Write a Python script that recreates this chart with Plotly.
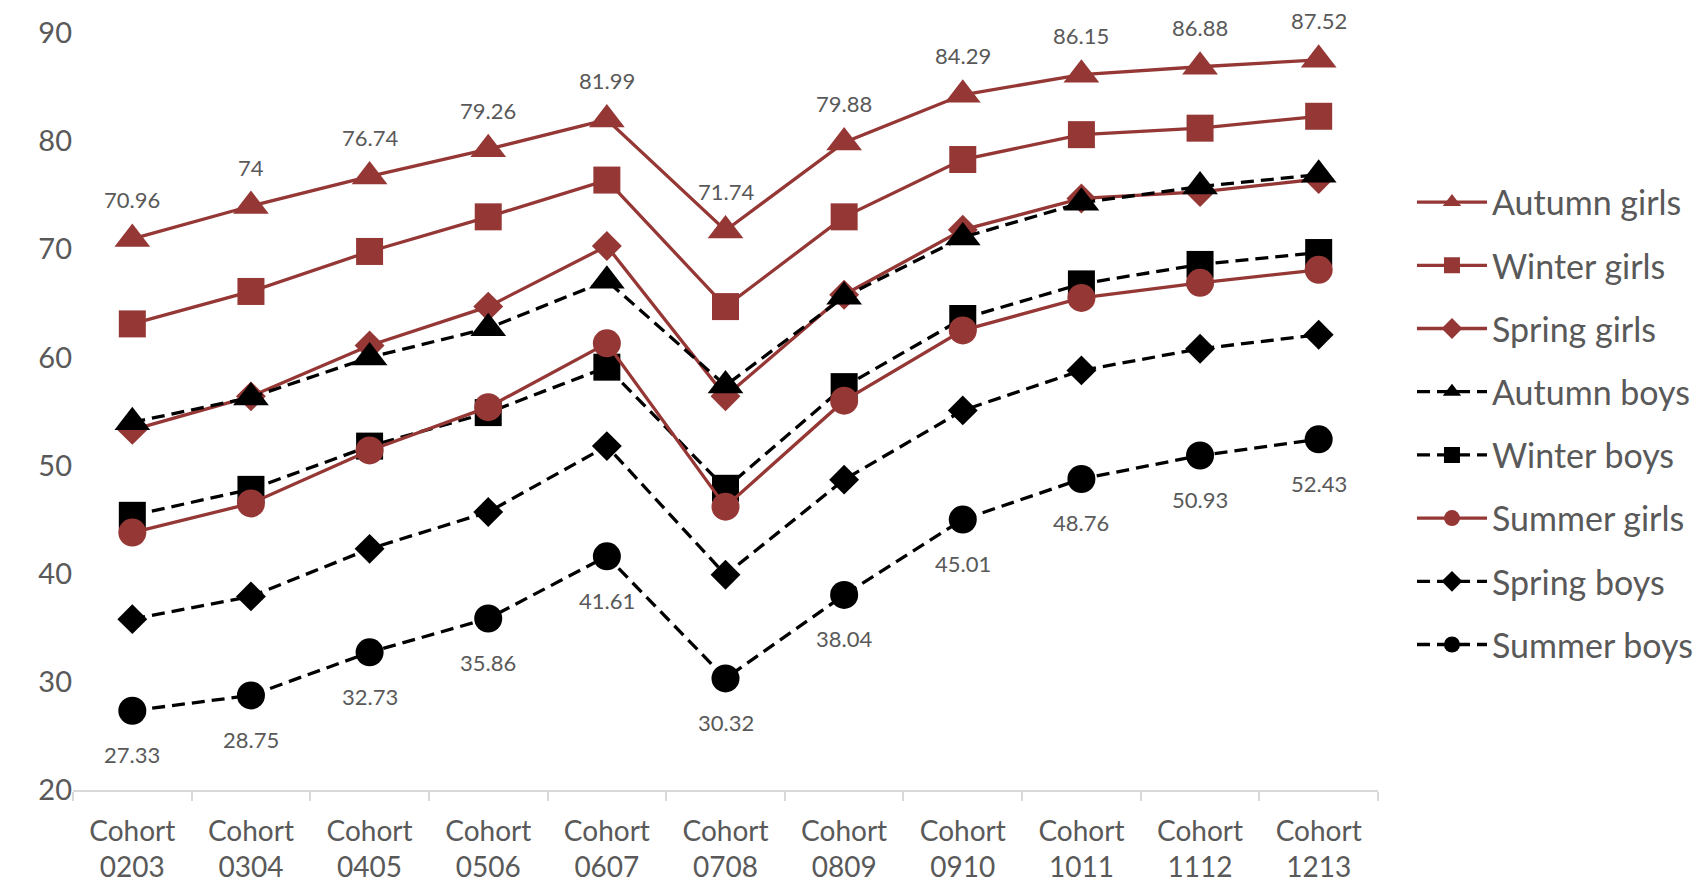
import plotly.graph_objects as go

categories = ["Cohort<br>0203", "Cohort<br>0304", "Cohort<br>0405", "Cohort<br>0506",
              "Cohort<br>0607", "Cohort<br>0708", "Cohort<br>0809", "Cohort<br>0910",
              "Cohort<br>1011", "Cohort<br>1112", "Cohort<br>1213"]

autumn_girls = [70.96, 74, 76.74, 79.26, 81.99, 71.74, 79.88, 84.29, 86.15, 86.88, 87.52]
winter_girls = [63.1, 66.1, 69.8, 73.0, 76.4, 64.7, 73.0, 78.3, 80.6, 81.2, 82.3]
spring_girls = [53.3, 56.4, 61.1, 64.7, 70.3, 56.4, 65.8, 71.8, 74.7, 75.3, 76.5]
autumn_boys = [54.0, 56.3, 60.0, 62.7, 67.1, 57.4, 65.6, 71.1, 74.3, 75.8, 76.9]
winter_boys = [45.4, 47.8, 51.8, 54.9, 59.1, 47.9, 57.3, 63.6, 66.8, 68.6, 69.7]
summer_girls = [43.8, 46.5, 51.4, 55.4, 61.3, 46.2, 56.0, 62.5, 65.5, 66.9, 68.1]
spring_boys = [35.8, 37.9, 42.3, 45.7, 51.8, 39.9, 48.7, 55.1, 58.8, 60.8, 62.1]
summer_boys = [27.33, 28.75, 32.73, 35.86, 41.61, 30.32, 38.04, 45.01, 48.76, 50.93, 52.43]

y_ticks = [20, 30, 40, 50, 60, 70, 80, 90]

RED = "#953735"
BLACK = "#000000"
TEXT = "#595959"
FONT = "Lato"
DASH = "13px,7px"

series = [
    ("Autumn girls", autumn_girls, RED, "solid", "triangle-up", 31),
    ("Winter girls", winter_girls, RED, "solid", "square", 27),
    ("Spring girls", spring_girls, RED, "solid", "diamond", 23),
    ("Autumn boys", autumn_boys, BLACK, DASH, "triangle-up", 31),
    ("Winter boys", winter_boys, BLACK, DASH, "square", 27),
    ("Summer girls", summer_girls, RED, "solid", "circle", 28),
    ("Spring boys", spring_boys, BLACK, DASH, "diamond", 23),
    ("Summer boys", summer_boys, BLACK, DASH, "circle", 28),
]

fig = go.Figure()
for name, vals, color, dash, symbol, size in series:
    fig.add_trace(go.Scatter(
        x=categories, y=vals, name=name, mode="lines+markers",
        legendgroup=name,
        line=dict(color=color, width=3.3, dash=dash),
        marker=dict(symbol=symbol, size=size, color=color, line=dict(width=0)),
        cliponaxis=False,
    ))

annotations = []
for c, v in zip(categories, autumn_girls):
    annotations.append(dict(x=c, y=v, text=f"{v:g}", showarrow=False, yshift=39,
                            font=dict(family=FONT, size=22, color=TEXT)))
for c, v in zip(categories, summer_boys):
    annotations.append(dict(x=c, y=v, text=f"{v:g}", showarrow=False, yshift=-44,
                            font=dict(family=FONT, size=22, color=TEXT)))

fig.update_layout(
    width=1708, height=884,
    margin=dict(l=65, r=338, t=25, b=102, autoexpand=False),
    plot_bgcolor="white", paper_bgcolor="white",
    font=dict(family=FONT, color=TEXT),
    annotations=annotations,
    showlegend=True,
    legend=dict(
        xref="container", yref="container",
        x=0.822, y=0.53, xanchor="left", yanchor="middle",
        font=dict(family=FONT, size=34, color=TEXT),
        tracegroupgap=16, itemwidth=70, maxheight=0.95,
        bgcolor="rgba(0,0,0,0)",
    ),
    xaxis=dict(
        type="category", range=[-0.5, len(categories) - 0.5],
        showgrid=False, showline=True, linecolor="#d9d9d9", linewidth=2,
        ticks="outside", tickson="boundaries", ticklen=9, tickcolor="#d9d9d9", tickwidth=2,
        tickfont=dict(family=FONT, size=28, color=TEXT), zeroline=False,
        automargin=False, ticklabelstandoff=15,
    ),
    yaxis=dict(
        range=[20, 90], tickvals=y_ticks, showgrid=False, showline=False, zeroline=False,
        ticks="", ticklabelstandoff=0, automargin=False,
        tickfont=dict(family=FONT, size=29, color=TEXT),
    ),
)

fig.write_html("out.html")
